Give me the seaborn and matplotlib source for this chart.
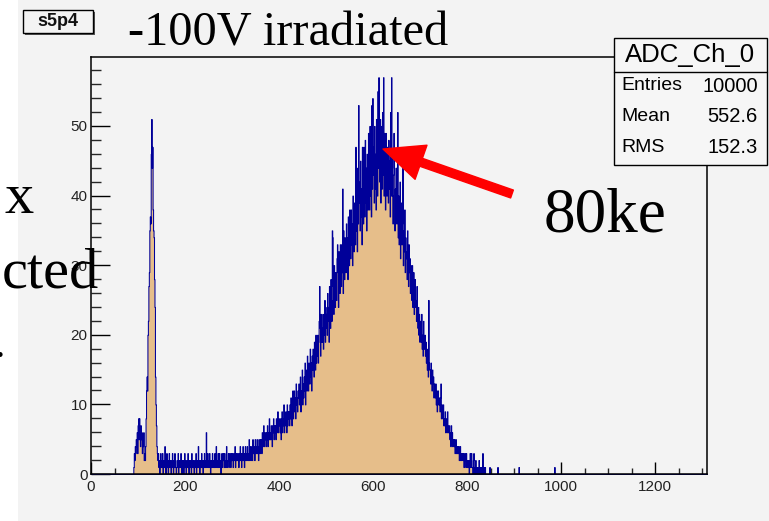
import numpy as np
import pandas as pd
import matplotlib
matplotlib.use("Agg")
import matplotlib.pyplot as plt
from matplotlib.patches import Rectangle, FancyArrowPatch
from matplotlib.lines import Line2D
from matplotlib.ticker import MultipleLocator
import seaborn as sns

# ---- histogram data: counts per ADC channel (bin width 1) ----
n_bins = 1310
adc_first = 90
counts = [
    1, 3, 2, 4, 3, 5, 4, 6, 3, 7,          # 90
    8, 5, 8, 6, 4, 7, 5, 6, 3, 5,          # 100
    4, 6, 2, 3, 2, 4, 8, 12, 14, 12,       # 110
    20, 22, 27, 29, 35, 37, 36, 46, 51, 44,  # 120
    47, 38, 35, 34, 28, 24, 14, 10, 7, 4,  # 130
    3, 2, 3, 1, 2, 0, 2, 3, 1, 2,          # 140
    1, 3, 0, 2, 1, 2, 4, 1, 0, 2,          # 150
    3, 1, 2, 0, 1, 3, 2, 1, 2, 0,          # 160
    1, 2, 3, 1, 0, 2, 1, 3, 2, 1,          # 170
    0, 1, 2, 1, 3, 0, 2, 1, 1, 2,          # 180
    3, 1, 0, 2, 1, 2, 0, 1, 3, 1,          # 190
    2, 0, 1, 2, 1, 3, 1, 0, 2, 1,          # 200
    1, 2, 0, 3, 1, 2, 1, 2, 0, 1,          # 210
    2, 1, 3, 0, 1, 2, 1, 4, 1, 2,          # 220
    0, 2, 1, 1, 3, 1, 2, 0, 2, 1,          # 230
    3, 2, 1, 2, 6, 1, 2, 3, 1, 2,          # 240
    1, 3, 2, 0, 2, 1, 2, 3, 1, 2,          # 250
    2, 1, 3, 2, 1, 4, 2, 1, 2, 3,          # 260
    1, 2, 3, 1, 2, 0, 2, 3, 1, 2,          # 270
    3, 2, 1, 3, 2, 1, 2, 4, 1, 2,          # 280
    2, 3, 1, 2, 3, 2, 1, 3, 2, 2,          # 290
    3, 1, 2, 3, 2, 4, 1, 2, 3, 2,          # 300
    2, 3, 2, 1, 3, 2, 4, 2, 3, 1,          # 310
    3, 2, 4, 2, 3, 1, 3, 4, 2, 3,          # 320
    2, 4, 3, 2, 3, 5, 2, 3, 4, 2,          # 330
    3, 4, 2, 5, 3, 4, 3, 2, 5, 4,          # 340
    3, 4, 5, 3, 4, 2, 5, 4, 3, 5,          # 350
    4, 5, 3, 6, 4, 5, 7, 4, 5, 6,          # 360
    5, 4, 6, 5, 7, 4, 6, 5, 8, 5,          # 370
    6, 5, 7, 6, 4, 7, 6, 8, 5, 7,          # 380
    6, 7, 5, 8, 6, 7, 9, 6, 7, 8,          # 390
    7, 6, 8, 5, 7, 9, 6, 8, 7, 10,         # 400
    6, 8, 7, 9, 8, 6, 10, 7, 9, 8,         # 410
    9, 7, 10, 8, 11, 9, 7, 10, 12, 8,      # 420
    10, 12, 9, 11, 8, 13, 10, 11, 9, 12,   # 430
    11, 13, 10, 12, 14, 9, 12, 11, 15, 10,  # 440
    13, 11, 14, 12, 16, 10, 15, 13, 12, 17,  # 450
    14, 12, 16, 15, 13, 18, 14, 16, 12, 17,  # 460
    15, 18, 16, 14, 19, 17, 15, 20, 16, 18,  # 470
    17, 20, 16, 19, 22, 27, 21, 17, 23, 19,  # 480
    21, 19, 23, 18, 22, 20, 25, 19, 24, 21,  # 490
    23, 20, 26, 22, 24, 19, 27, 23, 21, 28,  # 500
    25, 22, 35, 34, 27, 23, 30, 26, 24, 29,  # 510
    27, 25, 31, 33, 29, 24, 32, 28, 26, 33,  # 520
    30, 27, 33, 29, 41, 26, 35, 30, 28, 34,  # 530
    32, 29, 36, 31, 34, 28, 37, 33, 30, 38,  # 540
    34, 31, 38, 33, 36, 30, 40, 35, 32, 39,  # 550
    37, 33, 47, 35, 39, 32, 44, 36, 53, 42,  # 560
    39, 35, 45, 37, 41, 33, 47, 38, 36, 47,  # 570
    41, 37, 48, 39, 44, 35, 46, 45, 38, 49,  # 580
    42, 38, 50, 40, 45, 37, 53, 41, 54, 47,  # 590
    43, 39, 50, 41, 46, 38, 51, 44, 40, 55,  # 600
    44, 57, 48, 42, 51, 39, 50, 43, 41, 52,  # 610
    43, 57, 40, 49, 42, 38, 49, 44, 40, 47,  # 620
    42, 39, 48, 41, 45, 37, 52, 40, 57, 46,  # 630
    40, 36, 43, 49, 44, 35, 41, 37, 44, 36,  # 640
    38, 52, 34, 40, 33, 37, 42, 31, 36, 39,  # 650
    33, 36, 44, 30, 35, 32, 38, 29, 34, 31,  # 660
    32, 28, 35, 30, 27, 33, 29, 31, 26, 30,  # 670
    28, 25, 30, 24, 27, 29, 23, 26, 28, 24,  # 680
    25, 22, 27, 23, 21, 24, 20, 23, 19, 22,  # 690
    21, 19, 23, 18, 20, 17, 22, 19, 18, 20,  # 700
    17, 19, 16, 18, 15, 17, 14, 25, 16, 15,  # 710
    15, 13, 16, 14, 12, 15, 13, 14, 11, 13,  # 720
    12, 11, 13, 10, 12, 9, 11, 12, 10, 11,   # 730
    10, 9, 11, 13, 8, 10, 9, 8, 10, 7,       # 740
    8, 7, 9, 6, 8, 7, 6, 9, 7, 6,            # 750
    6, 7, 5, 6, 4, 7, 5, 6, 4, 5,            # 760
    5, 4, 5, 3, 4, 5, 3, 4, 3, 4,            # 770
    3, 4, 2, 3, 4, 2, 3, 2, 3, 3,            # 780
    2, 3, 1, 2, 3, 2, 1, 3, 2, 1,            # 790
    2, 1, 2, 0, 1, 3, 1, 2, 3, 1,            # 800
    1, 0, 2, 3, 1, 0, 1, 2, 0, 1,            # 810
    1, 0, 1, 0, 2, 1, 0, 0, 1, 0,            # 820
    0, 1, 3, 0, 1, 0, 0, 1, 0, 0,            # 830
]
tail_adc = [847, 864, 909, 985]
tail_counts = [1, 1, 1, 1]

# ---- text ----
pad_label = "s5p4"
title = "-100V irradiated"
stats_name = "ADC_Ch_0"
stats_rows = [("Entries", "10000"), ("Mean", "552.6"), ("RMS", "152.3")]
note = "80ke"
side_words = ["x", "cted", "."]

# ---- colours ----
bg = "#f3f3f3"
fill_col = "#e6be8a"
line_col = "#000099"

W, H = 769, 521
sns.set_style("ticks")
plt.rcParams["font.family"] = ["Liberation Sans", "DejaVu Sans"]
plt.rcParams["text.color"] = "#222222"
serif = ["Liberation Serif", "DejaVu Serif"]

fig = plt.figure(figsize=(W / 100, H / 100), dpi=100, facecolor=bg)


def fx(x):
    return x / W


def fy(y):
    return 1 - y / H


# white strip at the very left
fig.patches.append(Rectangle((0, 0), fx(18), 1, transform=fig.transFigure,
                             facecolor="white", edgecolor="none", zorder=0))

ax = fig.add_axes([fx(91), fy(474), fx(707) - fx(91), fy(57.4) - fy(474)])
ax.set_facecolor(bg)

full = np.zeros(n_bins)
full[adc_first:adc_first + len(counts)] = counts
full[tail_adc] = tail_counts
hist_df = pd.DataFrame({"adc": np.arange(n_bins) + 0.5, "n": full})

sns.histplot(data=hist_df, x="adc", weights="n", binwidth=1, binrange=(0, n_bins),
             element="step", fill=True, facecolor=fill_col, edgecolor=line_col,
             alpha=1, linewidth=0.75, ax=ax)

ax.set_xlim(0, n_bins)
ax.set_ylim(0, 1.05 * full.max())
ax.set_xlabel("")
ax.set_ylabel("")
for s in ax.spines.values():
    s.set_color("black")
    s.set_linewidth(1.1)
    s.set_visible(True)

ax.xaxis.set_major_locator(MultipleLocator(200))
ax.xaxis.set_minor_locator(MultipleLocator(50))
ax.yaxis.set_major_locator(MultipleLocator(10))
ax.yaxis.set_minor_locator(MultipleLocator(2))
ax.tick_params(axis="x", which="major", direction="in", length=8.6, width=1,
               labelsize=11, pad=4.5, colors="black", labelcolor="#222222")
ax.tick_params(axis="x", which="minor", direction="in", length=4.3, width=1)
ax.tick_params(axis="y", which="major", direction="in", length=13.7, width=1,
               labelsize=11, pad=2.5, colors="black", labelcolor="#222222")
ax.tick_params(axis="y", which="minor", direction="in", length=7.2, width=1)
ax.tick_params(top=False, right=False, which="both")

# pad name box with shadow
fig.patches.append(Rectangle((fx(25), fy(35)), fx(70), 23 / H, transform=fig.transFigure,
                             facecolor="#555555", edgecolor="none", zorder=2))
fig.patches.append(Rectangle((fx(23), fy(33)), fx(70), 23 / H, transform=fig.transFigure,
                             facecolor=bg, edgecolor="black", linewidth=1, zorder=3))
fig.text(fx(58), fy(22), pad_label, ha="center", va="center", fontsize=13,
         fontweight="bold", color="#111111", zorder=4)

fig.text(fx(128), fy(45), title, ha="left", va="baseline", fontsize=34.8,
         family=serif, color="black")

# statistics box
fig.patches.append(Rectangle((fx(614), fy(165)), fx(767) - fx(614), (165 - 38) / H,
                             transform=fig.transFigure, facecolor="#f6f6f6",
                             edgecolor="black", linewidth=1, zorder=3))
fig.lines.append(Line2D([fx(614), fx(767)], [fy(72), fy(72)], transform=fig.transFigure,
                        color="black", linewidth=1, zorder=4))
fig.text(fx(690), fy(55), stats_name, ha="center", va="center", fontsize=18.5,
         color="black", zorder=5)
for i, (k, v) in enumerate(stats_rows):
    yy = fy(86 + 30.5 * i)
    fig.text(fx(621), yy, k, ha="left", va="center", fontsize=14, color="black", zorder=5)
    fig.text(fx(758), yy, v, ha="right", va="center", fontsize=14.5, color="black", zorder=5)

# annotation arrow and label
arrow = FancyArrowPatch((fx(512), fy(194)), (fx(383), fy(149)), transform=fig.transFigure,
                        arrowstyle="simple,head_length=2.9,head_width=2.6,tail_width=0.6",
                        mutation_scale=10, color="#ff0000", shrinkA=0, shrinkB=0, zorder=6)
fig.patches.append(arrow)
fig.text(fx(544), fy(231), note, ha="left", va="baseline", fontsize=45.5,
         family=serif, color="black")

# words running in from the left edge
fig.text(fx(34), fy(213), side_words[0], ha="right", va="baseline", fontsize=42,
         family=serif, color="black", zorder=7)
fig.text(fx(99), fy(288), side_words[1], ha="right", va="baseline", fontsize=42,
         family=serif, color="black", zorder=7)
fig.text(fx(5), fy(357), side_words[2], ha="right", va="baseline", fontsize=30,
         family=serif, color="black", zorder=7)

fig.savefig("out.png", dpi=100, facecolor=bg)
